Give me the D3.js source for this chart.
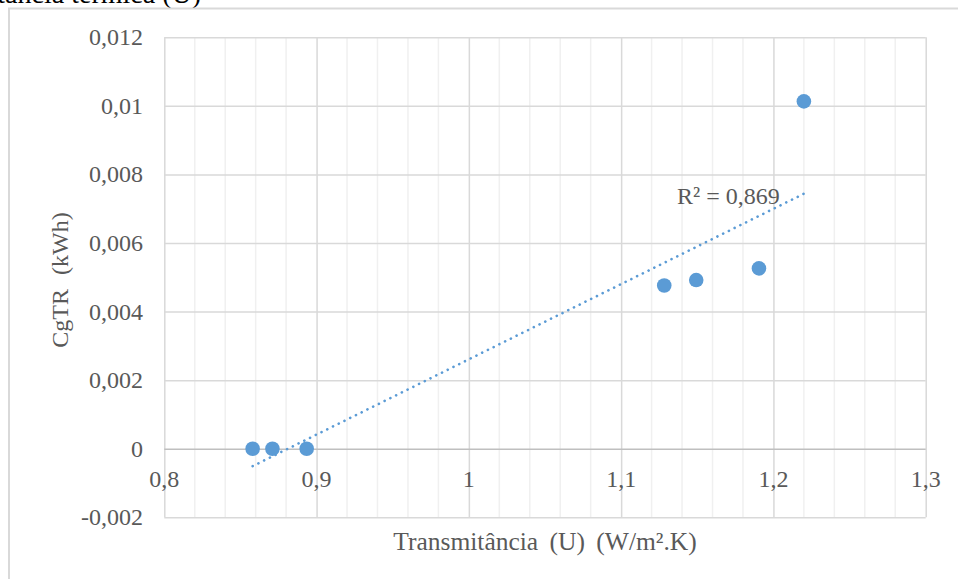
<!DOCTYPE html>
<html>
<head>
<meta charset="utf-8">
<script src="https://cdn.jsdelivr.net/npm/d3@7"></script>
<style>
  html, body { margin: 0; padding: 0; background: #fff; overflow: hidden; }
  svg { display: block; }
  text { font-family: "Liberation Serif", "Times New Roman", serif; }
</style>
</head>
<body>
<svg id="chart" width="958" height="579"></svg>
<script>
// Transmittance U (W/m².K) against CgTR (kWh)
const transmitancia = [0.858, 0.871, 0.8935, 1.1283, 1.1493, 1.1905, 1.220];
const cgtr          = [0, 0, 0, 0.00476, 0.00492, 0.00526, 0.01013];
const xTicks = [0.8, 0.9, 1.0, 1.1, 1.2, 1.3];
const yTicks = [-0.002, 0, 0.002, 0.004, 0.006, 0.008, 0.01, 0.012];
const r2Label = "R² = 0,869";

const svg = d3.select("#chart");
const fmt = v => String(+v.toFixed(4)).replace(".", ",");
const FS = "24px";

const x = d3.scaleLinear().domain([0.8, 1.3]).range([164.3, 925.7]);
const y = d3.scaleLinear().domain([-0.002, 0.012]).range([517.3, 37.3]);

// caption line above the chart frame (cut by the page edge)
svg.append("text").attr("x", 201).attr("y", 3).attr("text-anchor", "end")
  .attr("fill", "#000").style("font-size", "28px").text("Figura – transmitância térmica (U)");

// chart frame
svg.append("rect").attr("x", 9).attr("y", 8.5).attr("width", 1000).attr("height", 640)
  .attr("fill", "none").attr("stroke", "#d9d9d9").attr("stroke-width", 2);

// minor vertical gridlines every 0.02
const minor = d3.range(0.8, 1.3001, 0.02).filter(v => Math.abs(v * 10 - Math.round(v * 10)) > 1e-6);
svg.append("g").selectAll("line").data(minor).join("line")
  .attr("x1", d => x(d)).attr("x2", d => x(d))
  .attr("y1", y(0.012)).attr("y2", y(-0.002))
  .attr("stroke", "#f0f0f0").attr("stroke-width", 1.5);

// major gridlines
const gx = d3.axisBottom(x).tickValues(xTicks).tickSize(-(y(-0.002) - y(0.012))).tickFormat("");
svg.append("g").attr("transform", `translate(0,${y(-0.002)})`).call(gx)
  .call(g => g.select(".domain").remove())
  .call(g => g.selectAll("line").attr("stroke", "#d9d9d9").attr("stroke-width", 1.5));

const gy = d3.axisLeft(y).tickValues(yTicks).tickSize(-(x(1.3) - x(0.8))).tickFormat("");
svg.append("g").attr("transform", `translate(${x(0.8)},0)`).call(gy)
  .call(g => g.select(".domain").remove())
  .call(g => g.selectAll("line").attr("stroke", d => d === 0 ? "#bfbfbf" : "#d9d9d9").attr("stroke-width", 1.5));

// y tick labels
svg.append("g").selectAll("text").data(yTicks).join("text")
  .attr("x", 143).attr("y", d => y(d)).attr("dy", "0.33em")
  .attr("text-anchor", "end").attr("fill", "#595959").style("font-size", FS)
  .text(fmt);

// x tick labels, placed below the zero line
svg.append("g").selectAll("text").data(xTicks).join("text")
  .attr("x", d => x(d)).attr("y", y(0) + 38)
  .attr("text-anchor", "middle").attr("fill", "#595959").style("font-size", FS)
  .text(fmt);

// axis titles
svg.append("text").attr("x", 545).attr("y", 550).attr("text-anchor", "middle")
  .attr("fill", "#595959").style("font-size", "25.5px").style("word-spacing", "5px")
  .text("Transmitância (U) (W/m².K)");
svg.append("text").attr("transform", "translate(68,280) rotate(-90)").attr("text-anchor", "middle")
  .attr("fill", "#595959").style("font-size", FS).style("word-spacing", "8px")
  .text("CgTR (kWh)");

// linear trendline (least squares)
const n = transmitancia.length;
const mx = d3.mean(transmitancia), my = d3.mean(cgtr);
let sxy = 0, sxx = 0;
for (let i = 0; i < n; i++) { sxy += (transmitancia[i] - mx) * (cgtr[i] - my); sxx += (transmitancia[i] - mx) ** 2; }
const slope = sxy / sxx, intercept = my - slope * mx;
const [x0, x1] = d3.extent(transmitancia);
svg.append("line")
  .attr("x1", x(x0)).attr("y1", y(intercept + slope * x0))
  .attr("x2", x(x1)).attr("y2", y(intercept + slope * x1))
  .attr("stroke", "#5b9bd5").attr("stroke-width", 2.6)
  .attr("stroke-linecap", "round").attr("stroke-dasharray", "0.1 6.3");

// points
svg.append("g").selectAll("circle").data(transmitancia).join("circle")
  .attr("cx", d => x(d)).attr("cy", (d, i) => y(cgtr[i])).attr("r", 7.3)
  .attr("fill", "#5b9bd5");

svg.append("text").attr("x", 677).attr("y", 204)
  .attr("fill", "#595959").style("font-size", FS).text(r2Label);
</script>
</body>
</html>
